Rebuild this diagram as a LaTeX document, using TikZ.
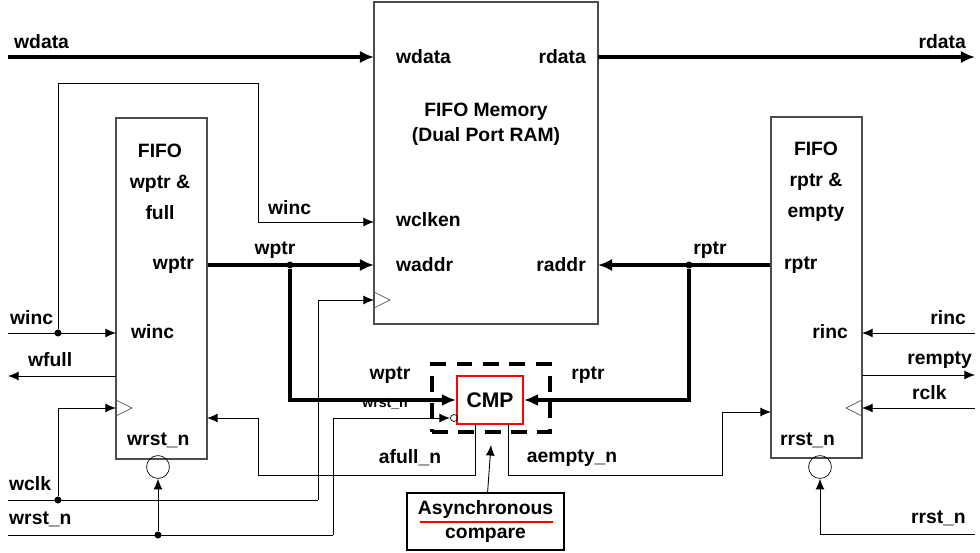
\documentclass[tikz,border=0pt]{standalone}
\usepackage{fontspec}
\setmainfont{Liberation Sans}
\usetikzlibrary{positioning,arrows.meta}
\begin{document}
\begin{tikzpicture}[x=0.02cm,y=-0.02cm,font=\bfseries\fontsize{11}{14}\selectfont]
  % styles
  \tikzset{blk/.style = {draw=black!70, line width=0.6pt, inner sep=0pt}}
  \tikzset{sig/.style = {draw, line width=0.5pt, -{Latex[length=6pt,width=5pt]}}}
  \tikzset{bus/.style = {draw, line width=1.8pt, -{Latex[length=8pt,width=7pt]}}}
  \tikzset{dot/.style = {circle, fill=black, minimum size=4pt, inner sep=0pt}}
  \tikzset{bub/.style = {circle, draw, minimum size=13pt, inner sep=0pt}}
  \useasboundingbox (0,0) rectangle (980,553);

  % blocks
  \node[blk, minimum width=224*0.02cm, minimum height=322*0.02cm] (mem) at (486,163) {};
  \node[blk, minimum width=91*0.02cm, minimum height=341*0.02cm] (wblk) at (161.5,288.5) {};
  \node[blk, minimum width=91*0.02cm, minimum height=341*0.02cm] (rblk) at (816.5,287.5) {};
  \node[draw=red, line width=1.2pt, minimum width=66*0.02cm, minimum height=48*0.02cm] (cmp) at (490,400) {\fontsize{12}{14}\selectfont CMP};
  \node[draw, dash pattern=on 9pt off 6pt, line width=2pt, minimum width=118*0.02cm, minimum height=68*0.02cm] (dash) at (491,398) {};
  \node[draw, line width=0.6pt, minimum width=157*0.02cm, minimum height=57*0.02cm, align=center] (async) at (485.5,521.5)
    {Asynchronous\\compare};
  \draw[red, line width=1.2pt] (420,522) -- (553,522);

  % texts in blocks
  \node[anchor=west] at (390,57) {wdata};
  \node[anchor=east] at (592,57) {rdata};
  \node[align=center] at (486,124) {FIFO Memory\\(Dual Port RAM)};
  \node[anchor=west] at (390,220) {wclken};
  \node[anchor=west] at (390,265) {waddr};
  \node[anchor=east] at (592,265) {raddr};
  \node[align=center, font=\bfseries\fontsize{11}{17.5}\selectfont] at (160,182) {FIFO\\wptr \&\\full};
  \node[anchor=east] at (200,265) {wptr};
  \node[anchor=west] at (125,332) {winc};
  \node[anchor=west] at (121,440) {wrst\_n};
  \node[align=center, font=\bfseries\fontsize{11}{17.5}\selectfont] at (816,182) {FIFO\\rptr \&\\empty};
  \node[anchor=west] at (778,265) {rptr};
  \node[anchor=east] at (854,332) {rinc};
  \node[anchor=west] at (774,440) {rrst\_n};

  % clock triangles and bubbles
  \draw[black!60] (374,292) -- (390,300) -- (374,308);
  \draw[black!60] (116,400) -- (132,408) -- (116,416);
  \draw[black!60] (862,400) -- (846,408) -- (862,416);
  \node[bub] (wbub) at (158,467) {};
  \node[bub] (rbub) at (820,467) {};

  % points
  \coordinate (wdin) at (8,57);   \coordinate (rdout) at (975,57);
  \coordinate (wincin) at (8,333); \coordinate (wfullout) at (8,376);
  \coordinate (wclkin) at (8,500); \coordinate (wrstin) at (8,535);
  \coordinate (rincin) at (975,333); \coordinate (remptyout) at (975,375);
  \coordinate (rclkin) at (975,408); \coordinate (rrstin) at (975,534);
  \node[dot] (d1) at (58,333) {};
  \node[dot] (d2) at (58,500) {};
  \node[dot] (d3) at (158,535) {};
  \node[dot] (d4) at (290,265) {};
  \node[dot] (d5) at (689,265) {};

  % data and pointers
  \draw[bus] (wdin) -- (374,57);
  \draw[bus] (598,57) -- (rdout);
  \draw[bus] (wblk.east |- d4) -- (374,265);
  \draw[bus] (d4) |- (cmp.west);
  \draw[bus] (rblk.west |- d5) -- (598,265);
  \draw[bus] (d5) |- (cmp.east);

  % write side
  \draw[sig] (wincin) -- (116,333);
  \draw[sig] (d1) |- (258,83) |- (374,222);
  \draw[sig] (116,376) -- (wfullout);
  \draw (wclkin) -- (318,500);
  \draw[sig] (d2) |- (116,408);
  \draw[sig] (318,500) |- (374,300);
  \draw (wrstin) -- (333,535);
  \draw[sig] (d3) -- (wbub);
  \draw[sig] (333,535) |- (450,418);
  \draw (454,418) circle (3.5);
  \draw[sig] (475,424) |- (258,475) |- (207,418);

  % read side
  \draw[sig] (rincin) -- (862,333);
  \draw[sig] (862,375) -- (remptyout);
  \draw[sig] (rclkin) -- (862,408);
  \draw[sig] (rrstin) -| (rbub);
  \draw[sig] (508,424) |- (722,475) |- (771,412);
  \draw[sig] (async) -- (491,445);

  % labels
  \node[anchor=west] at (8,42) {wdata};
  \node[anchor=east] at (972,42) {rdata};
  \node[anchor=west] at (4,318) {winc};
  \node[anchor=west] at (22,360) {wfull};
  \node[anchor=west] at (3,484) {wclk};
  \node[anchor=west] at (3,519) {wrst\_n};
  \node[anchor=west] at (262,208) {winc};
  \node at (275,250) {wptr};
  \node at (390,375) {wptr};
  \node at (710,250) {rptr};
  \node at (588,375) {rptr};
  \node[font=\bfseries\fontsize{8}{10}\selectfont] at (385,404) {wrst\_n};
  \node at (410,458) {afull\_n};
  \node at (572,458) {aempty\_n};
  \node[anchor=east] at (972,318) {rinc};
  \node[anchor=east] at (978,360) {rempty};
  \node[anchor=west] at (906,393) {rclk};
  \node[anchor=east] at (972,518) {rrst\_n};
\end{tikzpicture}
\end{document}
